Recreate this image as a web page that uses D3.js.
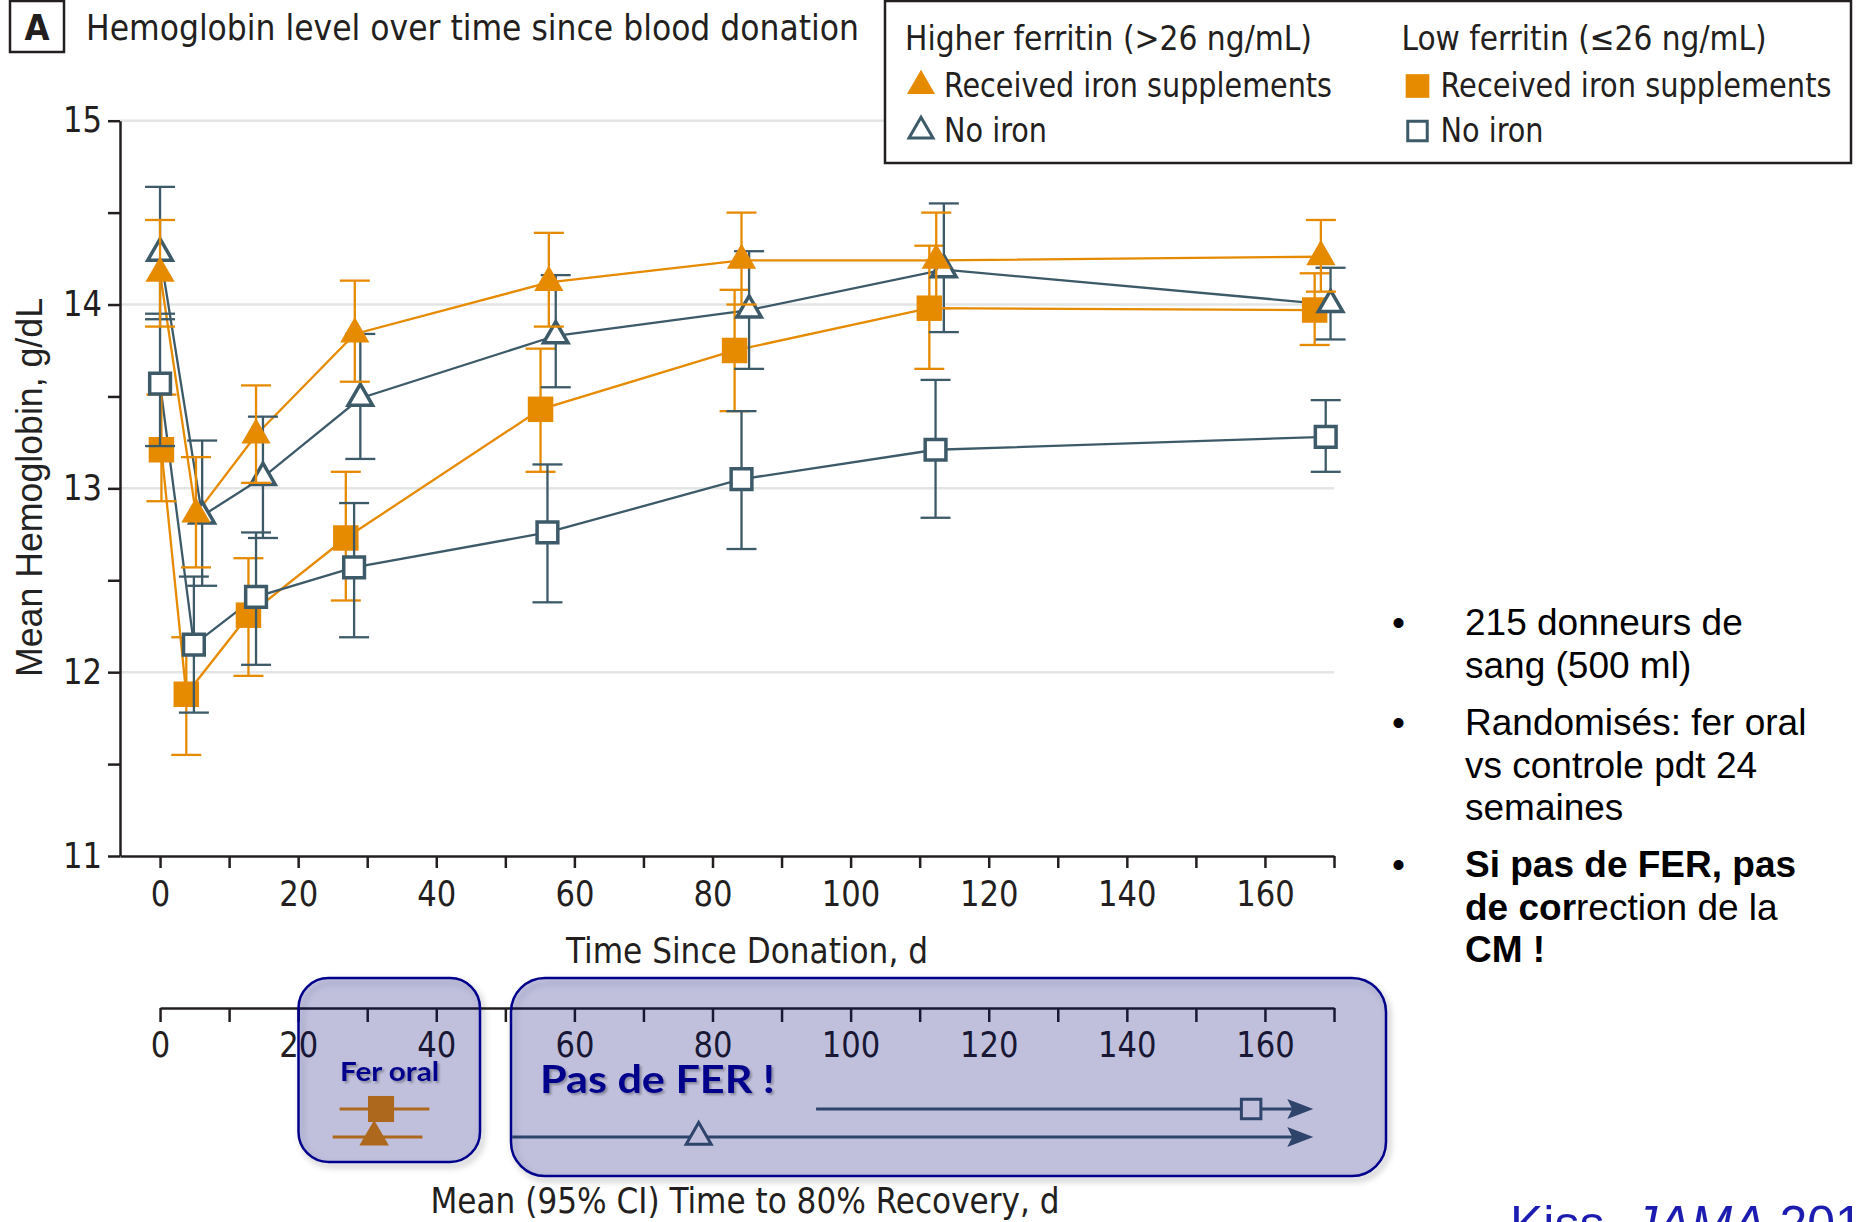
<!DOCTYPE html>
<html><head><meta charset="utf-8">
<script src="https://cdn.jsdelivr.net/npm/d3@7"></script>
<style>body{margin:0;background:#fff}svg{display:block}</style>
</head><body>
<svg id="c" width="1856" height="1222"></svg>
<script>
// ---------------- DATA ----------------
// Higher ferritin (>26 ng/mL), received iron supplements (filled triangle)
const hfIronDay = [0, 5.2, 13.9, 28.2, 56.3, 84.2, 112.4, 168.1];
const hfIronHb  = [14.17, 12.86, 13.29, 13.84, 14.12, 14.24, 14.24, 14.26];
const hfIronLo  = [13.88, 12.57, 13.03, 13.58, 13.88, 14.00, 13.98, 14.07];
const hfIronHi  = [14.46, 13.17, 13.56, 14.13, 14.39, 14.50, 14.50, 14.46];
// Higher ferritin, no iron (open triangle)
const hfNoDay = [0, 6.1, 14.9, 29.0, 57.3, 85.3, 113.5, 169.5];
const hfNoHb  = [14.28, 12.85, 13.06, 13.49, 13.83, 13.97, 14.19, 14.00];
const hfNoLo  = [13.92, 12.47, 12.73, 13.16, 13.55, 13.65, 13.85, 13.81];
const hfNoHi  = [14.64, 13.26, 13.39, 13.84, 14.16, 14.29, 14.55, 14.20];
// Low ferritin (<=26 ng/mL), received iron supplements (filled square)
const lfIronDay = [0.2, 3.8, 12.8, 26.9, 55.1, 83.2, 111.4, 167.2];
const lfIronHb  = [13.21, 11.88, 12.31, 12.73, 13.43, 13.75, 13.98, 13.97];
const lfIronLo  = [12.93, 11.55, 11.98, 12.39, 13.09, 13.42, 13.65, 13.78];
const lfIronHi  = [13.51, 12.19, 12.62, 13.09, 13.76, 14.08, 14.32, 14.17];
// Low ferritin, no iron (open square)
const lfNoDay = [0, 4.9, 13.9, 28.1, 56.1, 84.2, 112.3, 168.8];
const lfNoHb  = [13.57, 12.15, 12.41, 12.57, 12.76, 13.05, 13.21, 13.28];
const lfNoLo  = [13.23, 11.78, 12.04, 12.19, 12.38, 12.67, 12.84, 13.09];
const lfNoHi  = [13.95, 12.52, 12.76, 12.92, 13.13, 13.42, 13.59, 13.48];

// Mean (95% CI) time to 80% recovery, d
const recGroup    = ["Low", "Higher", "Low", "Higher"];
const recIron     = [true, true, false, false];
const recMean     = [32, 31, 158, 78];
const recLow      = [26, 25, 95, 51];
const recHigh     = [39, 38, 167, 167];
const recOpenEnd  = [false, false, true, true];

// Axis ticks / labels
const yTickVals  = [11, 11.5, 12, 12.5, 13, 13.5, 14, 14.5, 15];
const yLabelVals = [11, 12, 13, 14, 15];
const gridVals   = [12, 13, 14, 15];
const xTickVals  = [0,10,20,30,40,50,60,70,80,90,100,110,120,130,140,150,160,170];
const xLabelVals = [0,20,40,60,80,100,120,140,160];

const titleLetter = "A";
const titleText = "Hemoglobin level over time since blood donation";
const yTitle = "Mean Hemoglobin, g/dL";
const xTitle = "Time Since Donation, d";
const x2Title = "Mean (95% CI) Time to 80% Recovery, d";
const legendHeaders = ["Higher ferritin (>26 ng/mL)", "Low ferritin (\u226426 ng/mL)"];
const legendItems = ["Received iron supplements", "No iron"];

// ---------------- STYLE ----------------
const NARROW = "'DejaVu Sans Condensed','DejaVu Sans',sans-serif";
const ARIAL = "'Liberation Sans',Arial,sans-serif";
const CAL = "Lato,'Open Sans',sans-serif";
const ORANGE = "#E68A00", SLATE = "#3D5A68", INK = "#231F20", NAVY = "#00008B";

const svg = d3.select("#c");
const defs = svg.append("defs");
const sh = defs.append("filter").attr("id","boxShadow").attr("x","-10%").attr("y","-10%").attr("width","130%").attr("height","130%");
sh.append("feDropShadow").attr("dx",3).attr("dy",4).attr("stdDeviation",3).attr("flood-color","#000").attr("flood-opacity",0.3);
const tsh = defs.append("filter").attr("id","txtShadow").attr("x","-10%").attr("y","-20%").attr("width","130%").attr("height","150%");
tsh.append("feDropShadow").attr("dx",2).attr("dy",2).attr("stdDeviation",1.2).attr("flood-color","#000").attr("flood-opacity",0.3);

// ---------------- SCALES ----------------
const x = d3.scaleLinear().domain([-5.8, 170]).range([120, 1334]);
const y = d3.scaleLinear().domain([11, 15]).range([856, 120.7]);
const x2 = d3.scaleLinear().domain([0, 170]).range([x(0), x(170)]);
const axis2Y = 1008;
const recRow = d3.scalePoint().domain(["Low", "Higher"]).range([1109, 1137]);

// gridlines
svg.append("g").selectAll("line").data(gridVals).join("line")
  .attr("x1", x.range()[0]).attr("x2", x.range()[1])
  .attr("y1", d => y(d)).attr("y2", d => y(d))
  .attr("stroke", "#E3E5E5").attr("stroke-width", 2.5);

// Y axis
const gy = svg.append("g").attr("transform", `translate(${x.range()[0]},0)`)
  .call(d3.axisLeft(y).tickValues(yTickVals).tickSize(12).tickSizeOuter(0).tickPadding(6)
    .tickFormat(d => yLabelVals.includes(d) ? d : ""));
// X axis
const gx = svg.append("g").attr("transform", `translate(0,${y(11)})`)
  .call(d3.axisBottom(x).tickValues(xTickVals).tickSize(12).tickSizeOuter(0).tickPadding(13)
    .tickFormat(d => xLabelVals.includes(d) ? d : ""));
// second axis (recovery)
const gx2 = svg.append("g").attr("transform", `translate(0,${axis2Y})`)
  .call(d3.axisBottom(x2).tickValues(xTickVals).tickSize(14).tickSizeOuter(0).tickPadding(10)
    .tickFormat(d => xLabelVals.includes(d) ? d : ""));
[gy, gx, gx2].forEach(g => {
  g.select(".domain").attr("stroke", INK).attr("stroke-width", 2.5);
  g.selectAll(".tick line").attr("stroke", INK).attr("stroke-width", 2.5);
  g.selectAll(".tick text").attr("font-family", NARROW).attr("font-size", 35).attr("fill", INK)
    .each(function () {
      const n = this.textContent.length;
      if (n) d3.select(this).attr("textLength", 19.5 * n).attr("lengthAdjust", "spacingAndGlyphs");
    });
});

// Titles
svg.append("text").attr("x", 42).attr("y", 487.5).attr("transform", "rotate(-90,42,487.5)")
  .attr("text-anchor", "middle").attr("font-family", ARIAL).attr("font-size", 37)
  .attr("fill", "#222").attr("textLength", 379).attr("lengthAdjust", "spacingAndGlyphs").text(yTitle);
svg.append("text").attr("x", 747).attr("y", 963).attr("text-anchor", "middle")
  .attr("font-family", NARROW).attr("font-size", 36).attr("fill", INK)
  .attr("textLength", 362).attr("lengthAdjust", "spacingAndGlyphs").text(xTitle);
svg.append("text").attr("x", 745).attr("y", 1213).attr("text-anchor", "middle")
  .attr("font-family", NARROW).attr("font-size", 35).attr("fill", INK)
  .attr("textLength", 629).attr("lengthAdjust", "spacingAndGlyphs").text(x2Title);

// panel title
svg.append("rect").attr("x", 10).attr("y", 1).attr("width", 54).attr("height", 51)
  .attr("fill", "#fff").attr("stroke", INK).attr("stroke-width", 2.5);
svg.append("text").attr("x", 37).attr("y", 40).attr("text-anchor", "middle").attr("font-family", NARROW)
  .attr("font-weight", "bold").attr("font-size", 36).attr("fill", INK).text(titleLetter);
svg.append("text").attr("x", 86).attr("y", 40).attr("font-family", NARROW).attr("font-size", 35).attr("fill", INK)
  .attr("textLength", 773).attr("lengthAdjust", "spacingAndGlyphs").text(titleText);

// ---------------- SERIES ----------------
const series = [
  {days: lfIronDay, hb: lfIronHb, lo: lfIronLo, hi: lfIronHi, color: ORANGE, sym: d3.symbolSquare, filled: true, size: 650},
  {days: lfNoDay, hb: lfNoHb, lo: lfNoLo, hi: lfNoHi, color: SLATE, sym: d3.symbolSquare, filled: false, size: 430},
  {days: hfNoDay, hb: hfNoHb, lo: hfNoLo, hi: hfNoHi, color: SLATE, sym: d3.symbolTriangle, filled: false, size: 260},
  {days: hfIronDay, hb: hfIronHb, lo: hfIronLo, hi: hfIronHi, color: ORANGE, sym: d3.symbolTriangle, filled: true, size: 370},
];
const line = s => d3.line().x(i => x(s.days[i])).y(i => y(s.hb[i]))(d3.range(s.days.length));
const gl = svg.append("g");
series.forEach(s => gl.append("path").attr("d", line(s)).attr("fill", "none")
  .attr("stroke", s.color).attr("stroke-width", 2.3));
series.forEach(s => {
  const g = svg.append("g");
  const idx = d3.range(s.days.length);
  g.selectAll("line.v").data(idx).join("line").attr("class", "v")
    .attr("x1", i => x(s.days[i])).attr("x2", i => x(s.days[i]))
    .attr("y1", i => y(s.lo[i])).attr("y2", i => y(s.hi[i]))
    .attr("stroke", s.color).attr("stroke-width", 2.3);
  ["lo", "hi"].forEach(k => g.selectAll("line." + k).data(idx).join("line").attr("class", k)
    .attr("x1", i => x(s.days[i]) - 15).attr("x2", i => x(s.days[i]) + 15)
    .attr("y1", i => y(s[k][i])).attr("y2", i => y(s[k][i]))
    .attr("stroke", s.color).attr("stroke-width", 2.3));
  g.selectAll("path").data(idx).join("path")
    .attr("d", d3.symbol().type(s.sym).size(s.size))
    .attr("transform", i => `translate(${x(s.days[i])},${y(s.hb[i])})`)
    .attr("fill", s.filled ? s.color : "#fff")
    .attr("stroke", s.filled ? "none" : s.color).attr("stroke-width", 3.5);
});

// ---------------- LEGEND ----------------
const lg = svg.append("g");
lg.append("rect").attr("x", 885).attr("y", 1).attr("width", 966).attr("height", 162)
  .attr("fill", "#fff").attr("stroke", INK).attr("stroke-width", 2.5);
const colX = [905, 1401.5];
const headLen = [407, 365];
const itemLen = [[388, 103], [391, 103]];
const headY = 50;
const rowY = [97, 142];
const legSeries = [[series[3], series[2]], [series[0], series[1]]];
const legSize = [[340, 250], [560, 380]];
legendHeaders.forEach((h, c) => {
  lg.append("text").attr("x", colX[c]).attr("y", headY).attr("font-family", NARROW).attr("font-size", 34)
    .attr("fill", INK).attr("textLength", headLen[c]).attr("lengthAdjust", "spacingAndGlyphs").text(h);
  legendItems.forEach((t, r) => {
    const s = legSeries[c][r];
    lg.append("path").attr("d", d3.symbol().type(s.sym).size(legSize[c][r]))
      .attr("transform", `translate(${colX[c] + 16},${rowY[r] - 11})`)
      .attr("fill", s.filled ? s.color : "#fff").attr("stroke", s.filled ? "none" : s.color).attr("stroke-width", 3);
    lg.append("text").attr("x", colX[c] + 39).attr("y", rowY[r]).attr("font-family", NARROW).attr("font-size", 34)
      .attr("fill", INK).attr("textLength", itemLen[c][r]).attr("lengthAdjust", "spacingAndGlyphs").text(t);
  });
});

// ---------------- RECOVERY PANEL ----------------
const rg = svg.append("g");
recMean.forEach((m, i) => {
  const yy = recRow(recGroup[i]);
  const col = recIron[i] ? ORANGE : SLATE;
  rg.append("line").attr("x1", x2(recLow[i])).attr("x2", x2(recHigh[i]) - (recOpenEnd[i] ? 6 : 0))
    .attr("y1", yy).attr("y2", yy).attr("stroke", col).attr("stroke-width", 3);
  if (recOpenEnd[i]) {
    const tip = x2(recHigh[i]);
    rg.append("path").attr("d", `M${tip},${yy}L${tip - 26},${yy - 10}L${tip - 21},${yy}L${tip - 26},${yy + 10}Z`)
      .attr("fill", col);
  }
  const isTri = recGroup[i] === "Higher";
  rg.append("path").attr("d", d3.symbol().type(isTri ? d3.symbolTriangle : d3.symbolSquare)
      .size(recIron[i] ? (isTri ? 380 : 680) : (isTri ? 270 : 380)))
    .attr("transform", `translate(${x2(m)},${yy})`)
    .attr("fill", recIron[i] ? col : "#fff").attr("stroke", recIron[i] ? "none" : col).attr("stroke-width", 3);
});

// annotation boxes
const boxes = [
  {x: 298.5, y: 978, w: 181.5, h: 184, r: 30},
  {x: 511, y: 978, w: 875, h: 198, r: 34}
];
svg.append("g").selectAll("rect").data(boxes).join("rect")
  .attr("x", d => d.x).attr("y", d => d.y).attr("width", d => d.w).attr("height", d => d.h)
  .attr("rx", d => d.r).attr("ry", d => d.r)
  .attr("fill", "rgba(0,0,128,0.2)").attr("stroke", NAVY).attr("stroke-width", 2.5)
  .attr("filter", "url(#boxShadow)");
svg.append("text").attr("x", 389.5).attr("y", 1081).attr("text-anchor", "middle").attr("font-family", CAL)
  .attr("font-weight", "bold").attr("font-size", 27).attr("fill", NAVY).attr("filter", "url(#txtShadow)")
  .attr("textLength", 99).attr("lengthAdjust", "spacingAndGlyphs").text("Fer oral");
svg.append("text").attr("x", 540).attr("y", 1093).attr("font-family", CAL)
  .attr("font-weight", "bold").attr("font-size", 39).attr("fill", NAVY).attr("filter", "url(#txtShadow)")
  .attr("textLength", 235).attr("lengthAdjust", "spacingAndGlyphs").text("Pas de FER !");

// ---------------- RIGHT TEXT ----------------
const bullets = [
  [[["215 donneurs de", false]], [["sang (500 ml)", false]]],
  [[["Randomis\u00e9s: fer oral", false]], [["vs controle pdt 24", false]], [["semaines", false]]],
  [[["Si pas de FER, pas", true]], [["de cor", true], ["rection de la", false]], [["CM !", true]]]
];
const lineBase = [[635, 678], [735, 778, 820], [877, 920, 962]];
const tg = svg.append("g").attr("font-family", ARIAL).attr("font-size", 37).attr("fill", "#000");
bullets.forEach((para, p) => {
  tg.append("text").attr("x", 1392).attr("y", lineBase[p][0]).text("\u2022");
  para.forEach((ln, l) => {
    const t = tg.append("text").attr("x", 1465).attr("y", lineBase[p][l]);
    ln.forEach(([s, b]) => t.append("tspan").attr("font-weight", b ? "bold" : "normal").text(s));
  });
});
const kt = svg.append("text").attr("x", 1510).attr("y", 1241).attr("font-family", ARIAL)
  .attr("font-size", 50).attr("fill", "#1C1CB0");
kt.append("tspan").text("Kiss, ");
kt.append("tspan").attr("font-style", "italic").text("JAMA");
kt.append("tspan").text(" 2015");
</script>
</body></html>
